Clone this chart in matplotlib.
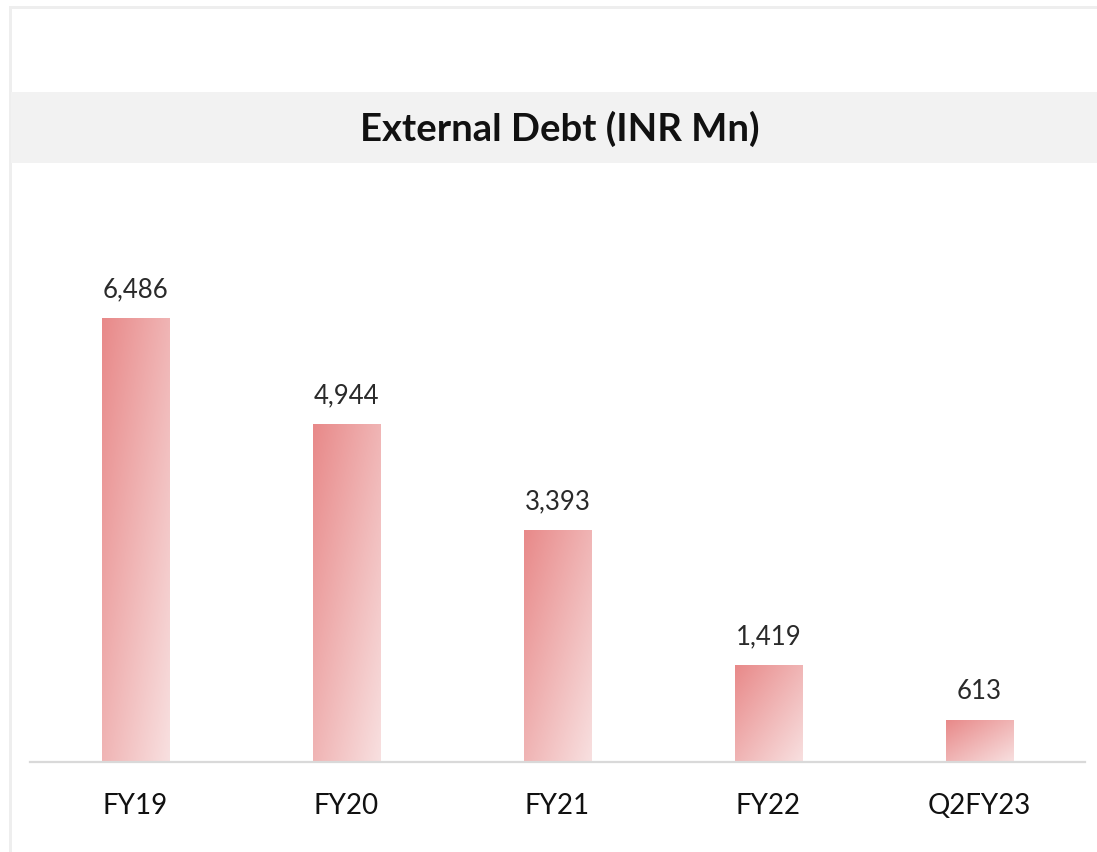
import numpy as np
import matplotlib.pyplot as plt
from matplotlib.colors import LinearSegmentedColormap
from matplotlib.patches import Rectangle
from matplotlib.lines import Line2D

categories = ["FY19", "FY20", "FY21", "FY22", "Q2FY23"]
debt = [6486, 4944, 3393, 1419, 613]
labels = ["6,486", "4,944", "3,393", "1,419", "613"]

plt.rcParams['font.family'] = ['Lato', 'DejaVu Sans']

fig = plt.figure(figsize=(10.97, 8.52), dpi=100)
W, H = 1097, 852

# light border on the left / top edge
fig.add_artist(Rectangle((9 / W, 0), 2.5 / W, 1 - 6 / H, transform=fig.transFigure,
                         color="#EEEEEE", lw=0))
fig.add_artist(Rectangle((9 / W, 1 - 8.5 / H), 1, 2.5 / H, transform=fig.transFigure,
                         color="#EEEEEE", lw=0))

# title band
fig.add_artist(Rectangle((11 / W, 1 - 163 / H), 1, 71 / H, transform=fig.transFigure,
                         color="#F2F2F2", lw=0))
fig.text(560 / W, 1 - 129 / H, "External Debt (INR Mn)", ha="center", va="center",
         fontsize=27.5, fontweight="bold", color="#111111")

ax = fig.add_axes([30 / W, 1 - 762 / H, 1055 / W, 562 / H])

cmap = LinearSegmentedColormap.from_list("pinkfade", ["#E88989", "#F8E0E0"])
uu, vv = np.meshgrid(np.linspace(0, 1, 100), np.linspace(1, 0, 200))
grad = (uu + (1 - vv)) / 2

bars = ax.bar(range(len(categories)), debt, width=0.32, color="none", lw=0)
for b, lab in zip(bars, labels):
    x0, w, h = b.get_x(), b.get_width(), b.get_height()
    im = ax.imshow(grad, cmap=cmap, extent=(x0, x0 + w, 0, h), origin="upper",
                   aspect="auto", vmin=0, vmax=1, zorder=2)
    im.set_clip_path(b)
    ax.text(x0 + w / 2, h + 230, lab, ha="center", va="bottom",
            fontsize=18.5, color="#2a2a2a")

ax.set_xlim(-0.5, len(categories) - 0.5)
ax.set_ylim(0, 8210)

for s in ax.spines.values():
    s.set_visible(False)
ax.add_line(Line2D([0, 1], [0, 0], transform=ax.transAxes, color="#D9D9D9",
                   lw=1.6, clip_on=False, zorder=3))
ax.set_yticks([])
ax.set_xticks(range(len(categories)))
ax.set_xticklabels(categories, fontsize=20, color="#111111")
ax.tick_params(axis="x", length=0, pad=22)
ax.patch.set_alpha(0)

fig.savefig("out.png", dpi=100)
